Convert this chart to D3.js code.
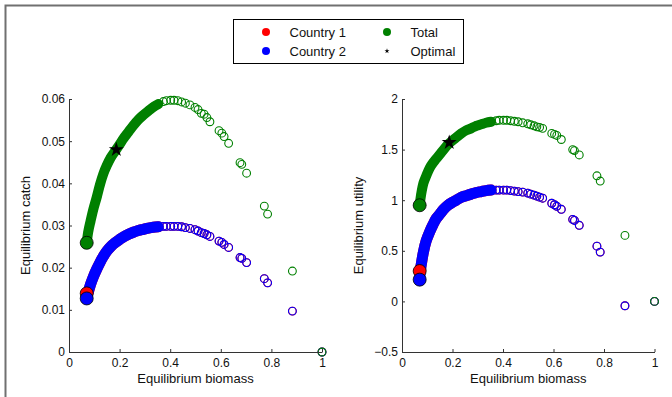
<!DOCTYPE html>
<html>
<head>
<meta charset="utf-8">
<script src="https://cdn.jsdelivr.net/npm/d3@7"></script>
<style>
  body { margin: 0; background: #fff; }
  svg { display: block; font-family: "Liberation Sans", Arial, Helvetica, sans-serif; }
</style>
</head>
<body>
<div id="chart"></div>
<script>
// equilibrium biomass of each scenario (shared by both panels)
const biomass = [0.070, 0.076, 0.085, 0.096, 0.110, 0.123, 0.136, 0.149, 0.165, 0.182, 0.200, 0.215, 0.235, 0.254, 0.274, 0.294, 0.314, 0.333, 0.353,
  0.373, 0.385, 0.402, 0.415, 0.430, 0.445, 0.460, 0.478, 0.498, 0.510, 0.523, 0.534, 0.545, 0.557, 0.593, 0.604, 0.613, 0.631,
  0.676, 0.683, 0.702, 0.772, 0.785, 0.883, 1.000];

// left panel: equilibrium catch
const catchTotal = [0.0259, 0.0285, 0.0310, 0.0338, 0.0368, 0.0398, 0.0423, 0.0442, 0.0461, 0.0476, 0.0492, 0.0506, 0.0522, 0.0537, 0.0551, 0.0562, 0.0572, 0.0581, 0.0588,
  0.0594, 0.0596, 0.0597, 0.0597, 0.0596, 0.0593, 0.0590, 0.0586, 0.0580, 0.0575, 0.0566, 0.0564, 0.0556, 0.0546, 0.0525, 0.0519, 0.0511, 0.0495,
  0.0449, 0.0445, 0.0424, 0.0346, 0.0327, 0.0192, 0.0000];
const catchC1 = [0.0139, 0.0142, 0.0160, 0.0178, 0.0197, 0.0213, 0.0227, 0.0239, 0.0250, 0.0259, 0.0267, 0.0273, 0.0279, 0.0284, 0.0288, 0.0291, 0.0294, 0.0296, 0.0297,
  0.0298, 0.0298, 0.0298, 0.0298, 0.0298, 0.0297, 0.0295, 0.0293, 0.0290, 0.0287, 0.0283, 0.0281, 0.0278, 0.0274, 0.0263, 0.0260, 0.0255, 0.0248,
  0.0224, 0.0222, 0.0212, 0.0174, 0.0164, 0.0097, 0.0000];
const catchC2 = [0.0127, 0.0142, 0.0160, 0.0178, 0.0197, 0.0213, 0.0227, 0.0239, 0.0250, 0.0259, 0.0267, 0.0273, 0.0279, 0.0284, 0.0288, 0.0291, 0.0294, 0.0296, 0.0297,
  0.0298, 0.0298, 0.0298, 0.0298, 0.0298, 0.0297, 0.0295, 0.0293, 0.0290, 0.0287, 0.0283, 0.0281, 0.0278, 0.0274, 0.0263, 0.0260, 0.0255, 0.0248,
  0.0224, 0.0222, 0.0212, 0.0174, 0.0164, 0.0097, 0.0000];

// right panel: equilibrium utility
const utilTotal = [0.95, 1.06, 1.17, 1.24, 1.32, 1.37, 1.41, 1.45, 1.50, 1.55, 1.59, 1.62, 1.66, 1.69, 1.71, 1.735, 1.75, 1.765, 1.775,
  1.785, 1.79, 1.79, 1.79, 1.785, 1.78, 1.775, 1.765, 1.755, 1.745, 1.735, 1.725, 1.72, 1.71, 1.66, 1.65, 1.64, 1.60,
  1.50, 1.49, 1.447, 1.241, 1.189, 0.652, 0.0];
const utilC1 = [0.30, 0.36, 0.49, 0.60, 0.69, 0.76, 0.82, 0.86, 0.91, 0.95, 0.98, 1.00, 1.03, 1.045, 1.06, 1.075, 1.085, 1.095, 1.10,
  1.10, 1.10, 1.10, 1.10, 1.095, 1.09, 1.085, 1.08, 1.07, 1.06, 1.05, 1.04, 1.03, 1.02, 0.97, 0.955, 0.94, 0.91,
  0.81, 0.80, 0.752, 0.546, 0.487, -0.043, 0.0];
const utilC2 = [0.215, 0.36, 0.49, 0.60, 0.69, 0.76, 0.82, 0.86, 0.91, 0.95, 0.98, 1.00, 1.03, 1.045, 1.06, 1.075, 1.085, 1.095, 1.10,
  1.10, 1.10, 1.10, 1.10, 1.095, 1.09, 1.085, 1.08, 1.07, 1.06, 1.05, 1.04, 1.03, 1.02, 0.97, 0.955, 0.94, 0.91,
  0.81, 0.80, 0.752, 0.546, 0.487, -0.043, 0.0];

// optimal point
const optBiomass = 0.187;
const optCatch = 0.048;
const optUtil = 1.57;

const xTicks = [0, 0.2, 0.4, 0.6, 0.8, 1];
const catchTicks = [0, 0.01, 0.02, 0.03, 0.04, 0.05, 0.06];
const utilTicks = [-0.5, 0, 0.5, 1, 1.5, 2];

const legendNames = ["Country 1", "Country 2", "Total", "Optimal"];
const colors = { c1: "#ff0000", c2: "#0000ff", total: "#008000" };

const width = 672, height = 397;
const fmt = d3.format("~g");

const svg = d3.select("#chart").append("svg")
  .attr("width", width)
  .attr("height", height)
  .style("background", "#fff");

// figure frame
svg.append("rect")
  .attr("x", 5.5).attr("y", 5.5)
  .attr("width", 700).attr("height", 500)
  .attr("fill", "none")
  .attr("stroke", "#707070")
  .attr("stroke-width", 2);

function drawPanel(left, right, yDomain, yTicksArr, yLabel, series, optY) {
  const x = d3.scaleLinear().domain([0, 1]).range([left, right]);
  const y = d3.scaleLinear().domain(yDomain).range([352, 99]);
  const g = svg.append("g");

  // dense part drawn as a thick band, then every point as an open circle
  const dense = biomass.map((b, i) => i).filter(i => biomass[i] < 0.36);
  const band = d3.line()
    .x(i => x(biomass[i]))
    .curve(d3.curveCatmullRom);

  series.forEach(s => {
    g.append("path")
      .attr("d", band.y(i => y(s.values[i]))(dense))
      .attr("fill", "none")
      .attr("stroke", s.color)
      .attr("stroke-width", s.band)
      .attr("stroke-linecap", "round");
    g.selectAll(null).data(biomass).enter().append("circle")
      .attr("cx", d => x(d))
      .attr("cy", (d, i) => y(s.values[i]))
      .attr("r", 3.9)
      .attr("fill", "none")
      .attr("stroke", s.color)
      .attr("stroke-width", 1.1);
  });

  // start points as large filled markers
  series.forEach(s => {
    g.append("circle")
      .attr("cx", x(biomass[0]))
      .attr("cy", y(s.values[0]))
      .attr("r", 6.5)
      .attr("fill", s.color)
      .attr("stroke", "#000")
      .attr("stroke-width", 0.8);
  });

  g.append("path")
    .attr("d", d3.symbol(d3.symbolStar, 70)())
    .attr("transform", `translate(${x(optBiomass)},${y(optY)})`)
    .attr("fill", "#000");

  const xAxis = d3.axisBottom(x).tickValues(xTicks).tickFormat(fmt)
    .tickSizeInner(-3).tickSizeOuter(0).tickPadding(6);
  const yAxis = d3.axisLeft(y).tickValues(yTicksArr).tickFormat(fmt)
    .tickSizeInner(-3).tickSizeOuter(0).tickPadding(4);

  const gx = svg.append("g").attr("transform", "translate(0,352)").call(xAxis);
  const gy = svg.append("g").attr("transform", `translate(${left},0)`).call(yAxis);
  [gx, gy].forEach(a => {
    a.selectAll("path, line").attr("stroke", "#333");
    a.selectAll("text").attr("fill", "#111").style("font-size", "12px");
    a.attr("font-family", null);
  });

  svg.append("text")
    .attr("x", (left + right) / 2).attr("y", 383)
    .attr("text-anchor", "middle")
    .style("font-size", "13px").attr("fill", "#111")
    .text("Equilibrium biomass");

  svg.append("text")
    .attr("transform", `translate(${left - 39},225.5) rotate(-90)`)
    .attr("text-anchor", "middle")
    .style("font-size", "13px").attr("fill", "#111")
    .text(yLabel);
}

drawPanel(69, 322, [0, 0.06], catchTicks, "Equilibrium catch", [
  { values: catchC1, color: colors.c1, band: 11 },
  { values: catchC2, color: colors.c2, band: 11 },
  { values: catchTotal, color: colors.total, band: 10 }
], optCatch);

drawPanel(402, 654.5, [-0.5, 2], utilTicks, "Equilibrium utility", [
  { values: utilC1, color: colors.c1, band: 11 },
  { values: utilC2, color: colors.c2, band: 11 },
  { values: utilTotal, color: colors.total, band: 10 }
], optUtil);

// legend
const lg = svg.append("g");
lg.append("rect")
  .attr("x", 233.5).attr("y", 19.5)
  .attr("width", 230).attr("height", 44)
  .attr("fill", "#fff").attr("stroke", "#000").attr("stroke-width", 1);

const legendItems = [
  { name: legendNames[0], color: colors.c1, x: 266, y: 32 },
  { name: legendNames[1], color: colors.c2, x: 266, y: 51 },
  { name: legendNames[2], color: colors.total, x: 387, y: 32 },
  { name: legendNames[3], color: null, x: 387, y: 51 }
];
legendItems.forEach(d => {
  if (d.color) {
    lg.append("circle").attr("cx", d.x).attr("cy", d.y).attr("r", 4).attr("fill", d.color);
  } else {
    lg.append("path").attr("d", d3.symbol(d3.symbolStar, 8)())
      .attr("transform", `translate(${d.x},${d.y})`).attr("fill", "#000");
  }
  lg.append("text")
    .attr("x", d.x + 23.5).attr("y", d.y + 4.5)
    .style("font-size", "13px").attr("fill", "#111")
    .text(d.name);
});
</script>
</body>
</html>
